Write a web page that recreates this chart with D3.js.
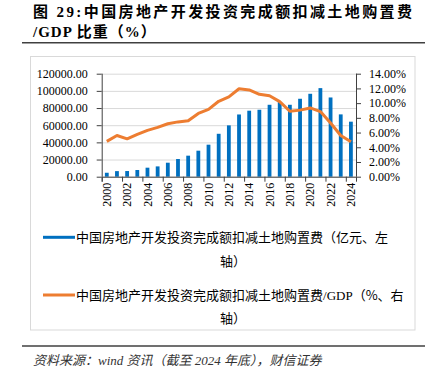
<!doctype html>
<html lang="zh">
<head>
<meta charset="utf-8">
<title>中国房地产开发投资完成额扣减土地购置费/GDP比重</title>
<style>
  body { margin: 0; background: #fff; }
  svg { display: block; }
  .tick text { font-family: "Liberation Serif", "Noto Sans CJK SC", serif; font-size: 12px; fill: #000; }
  .grid line { stroke: #d9d9d9; }
  .grid .domain { display: none; }
</style>
</head>
<body>
<svg id="chart" width="433" height="374"></svg>
<script src="https://cdn.jsdelivr.net/npm/d3@7"></script>
<script>
// data
const years = d3.range(2000, 2025);
const invest = [4600, 6500, 6600, 7800, 10500, 12000, 16300, 20600, 24500, 30300, 37300, 50000, 59800,
  72500, 76900, 78000, 83800, 87000, 83800, 90800, 96600, 103200, 92300, 72600, 64100]; // 亿元
const ratio = [4.8, 5.6, 5.15, 5.75, 6.3, 6.7, 7.2, 7.45, 7.6, 8.6, 9.15, 10.25, 10.85,
  11.95, 11.8, 11.2, 11.0, 10.2, 8.9, 9.05, 9.35, 8.85, 7.3, 5.6, 4.75]; // %
const leftTicks = [0, 20000, 40000, 60000, 80000, 100000, 120000];
const rightTicks = [0, 2, 4, 6, 8, 10, 12, 14];
const legendNames = ['中国房地产开发投资完成额扣减土地购置费（亿元、左', '中国房地产开发投资完成额扣减土地购置费/GDP（%、右'];

const svg = d3.select('#chart');

// plot area
const plotL = 101.7, plotR = 356, plotT = 73.7, plotB = 176.7;

const x = d3.scaleBand().domain(years).range([plotL, plotR]).padding(0);
const xb = d3.scaleLinear().domain([0, years.length]).range([plotL, plotR]); // category boundaries
const y = d3.scaleLinear().domain([0, 120000]).range([plotB, plotT]);
const y2 = d3.scaleLinear().domain([0, 14]).range([plotB, plotT]);

// outer chart frame
svg.append('rect')
  .attr('x', 30.5).attr('y', 56.5).attr('width', 384.5).attr('height', 273.5)
  .attr('fill', 'none').attr('stroke', '#d9d9d9');

// title
const title = svg.append('g')
  .attr('font-family', '"Liberation Serif", "Noto Sans CJK SC", serif')
  .attr('font-weight', 'bold').attr('font-size', 15).attr('fill', '#000');
title.append('text').attr('x', 33).attr('y', 17).attr('letter-spacing', 2.4)
  .text('图 29:中国房地产开发投资完成额扣减土地购置费');
title.append('text').attr('x', 33).attr('y', 37).attr('letter-spacing', 1)
  .text('/GDP 比重（%）');
svg.append('line').attr('x1', 22).attr('x2', 425).attr('y1', 42.7).attr('y2', 42.7)
  .attr('stroke', '#404040').attr('stroke-width', 1.6);

// gridlines
svg.append('g').attr('class', 'grid')
  .attr('transform', `translate(${plotL},0)`)
  .call(d3.axisLeft(y).tickValues(leftTicks).tickSize(-(plotR - plotL)).tickFormat(''));

// bars
const barW = 3.8;
svg.append('g').selectAll('rect')
  .data(invest)
  .join('rect')
  .attr('x', (d, i) => x(years[i]) + x.bandwidth() / 2 - barW / 2)
  .attr('y', d => y(d))
  .attr('width', barW)
  .attr('height', d => y(0) - y(d))
  .attr('fill', '#0070c0');

// line
const line = d3.line()
  .x((d, i) => x(years[i]) + x.bandwidth() / 2)
  .y(d => y2(d));
svg.append('path')
  .datum(ratio)
  .attr('d', line)
  .attr('fill', 'none')
  .attr('stroke', '#ed7d31')
  .attr('stroke-width', 3)
  .attr('stroke-linejoin', 'round');

// axes
const axisColor = '#404040';
const gl = svg.append('g').attr('transform', `translate(${plotL},0)`)
  .call(d3.axisLeft(y).tickValues(leftTicks).tickSize(5).tickPadding(9).tickFormat(d3.format('.2f')));
const gr = svg.append('g').attr('transform', `translate(${plotR},0)`)
  .call(d3.axisRight(y2).tickValues(rightTicks).tickSize(5).tickPadding(8).tickFormat(d => d.toFixed(2) + '%'));
const gb = svg.append('g').attr('transform', `translate(0,${plotB})`)
  .call(d3.axisBottom(xb).tickValues(d3.range(0, years.length + 1, 2)).tickSize(5).tickFormat(''));
const gx = svg.append('g').attr('transform', `translate(0,${plotB})`)
  .call(d3.axisBottom(x).tickValues(years.filter((d, i) => i % 2 === 0)).tickSize(0));
gx.select('.domain').remove();
gx.selectAll('text')
  .attr('transform', 'rotate(-90)')
  .attr('x', -6).attr('y', 0).attr('dy', '0.35em')
  .attr('text-anchor', 'end');
[gl, gr, gb].forEach(g => g.selectAll('.domain, .tick line').attr('stroke', axisColor));
gl.select('.domain').attr('d', `M0.5,${plotT}V${plotB}`);
gr.select('.domain').attr('d', `M0.5,${plotT}V${plotB}`);

// legend
const legend = svg.append('g')
  .attr('font-family', '"Noto Sans CJK SC", sans-serif')
  .attr('font-size', 13).attr('fill', '#000');
const legendRows = [
  { y: 237.3, color: '#0070c0', name: legendNames[0], wrapY: 261.7 },
  { y: 295, color: '#ed7d31', name: legendNames[1], wrapY: 318.5 }
];
legendRows.forEach(r => {
  legend.append('line').attr('x1', 43).attr('x2', 75).attr('y1', r.y).attr('y2', r.y)
    .attr('stroke', r.color).attr('stroke-width', 3);
  const t = legend.append('text').attr('x', 76).attr('y', r.y).attr('dy', '0.36em');
  if (r.name.includes('/GDP')) {
    const parts = r.name.split('/GDP');
    t.append('tspan').text(parts[0]);
    t.append('tspan').attr('font-family', '"Liberation Serif", serif').text('/GDP');
    t.append('tspan').text(parts[1]);
  } else {
    t.text(r.name);
  }
  legend.append('text').attr('x', 233).attr('y', r.wrapY).attr('dy', '0.36em')
    .attr('text-anchor', 'middle').text('轴）');
});

// source
svg.append('line').attr('x1', 22).attr('x2', 425).attr('y1', 346).attr('y2', 346)
  .attr('stroke', '#404040').attr('stroke-width', 1.6);
svg.append('text').attr('x', 33).attr('y', 360).attr('dy', '0.36em')
  .attr('font-family', '"Liberation Serif", "Noto Sans CJK SC", serif')
  .attr('font-style', 'italic').attr('font-size', 13).attr('fill', '#333')
  .text('资料来源：wind 资讯（截至 2024 年底），财信证券');
</script>
</body>
</html>
